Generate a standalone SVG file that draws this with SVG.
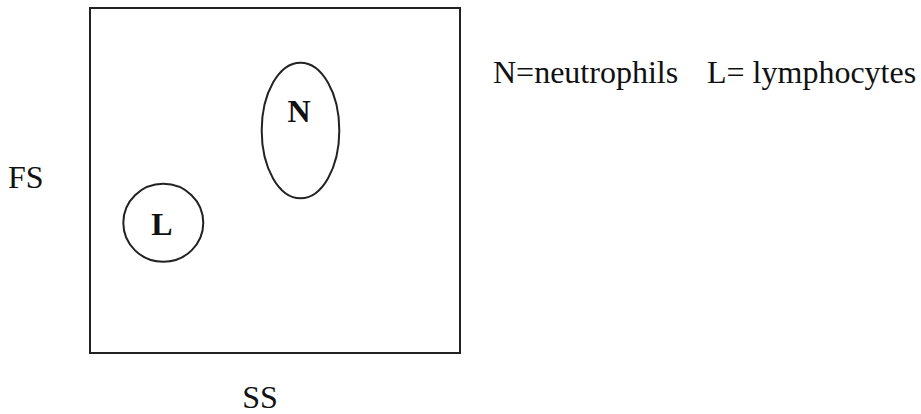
<svg xmlns="http://www.w3.org/2000/svg" width="921" height="414" viewBox="0 0 921 414">
<style>
.shape{fill:none;stroke:#222;stroke-width:2}
.t{font-size:32px;fill:#111}
.b{font-weight:bold;text-anchor:middle}
</style>
<rect x="0" y="0" width="921" height="414" fill="#fff"/>
<g id="plot">
<rect class="shape" x="90" y="8" width="370" height="345"/>
</g>
<g font-family="Liberation Serif, Times New Roman, serif">
<g id="node-N">
<ellipse class="shape" cx="300.5" cy="130.5" rx="38.8" ry="67.8"/>
<text class="t b" x="299" y="122" font-family="Liberation Serif, serif">N</text>
</g>
<g id="node-L">
<ellipse class="shape" cx="163.3" cy="222.8" rx="40" ry="39"/>
<text class="t b" x="162" y="235" font-family="Liberation Serif, serif">L</text>
</g>
<g id="connectors"></g>
<g id="labels">
<text class="t" x="8" y="188" font-family="Liberation Serif, serif">FS</text>
<text class="t" x="260" y="408" text-anchor="middle" font-family="Liberation Serif, serif">SS</text>
<text class="t" x="493" y="83" font-family="Liberation Serif, serif">N=neutrophils</text>
<text class="t" x="707" y="83" font-family="Liberation Serif, serif">L= lymphocytes</text>
</g>
</g>
</svg>
